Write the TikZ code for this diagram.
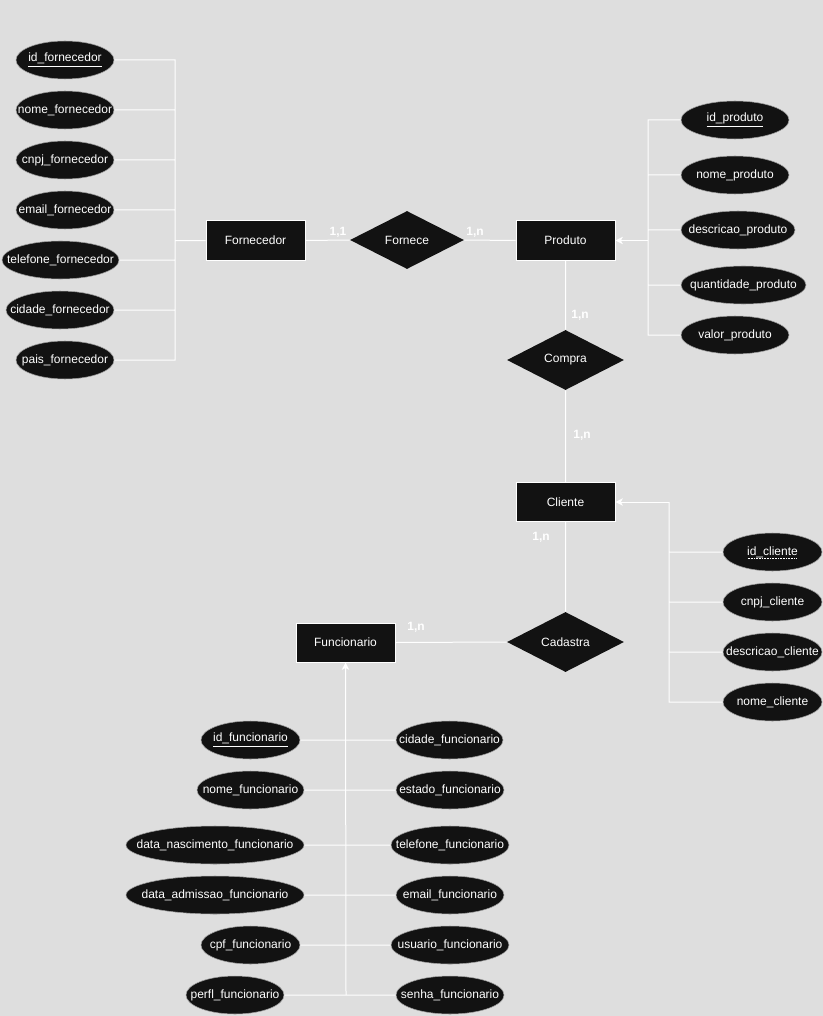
\documentclass[tikz,border=0pt]{standalone}
\usepackage{fontspec}
\setmainfont{Liberation Sans}
\usetikzlibrary{arrows.meta, shapes.geometric, positioning}
\definecolor{bg}{HTML}{DEDEDE}
\definecolor{ink}{HTML}{121212}
\newsavebox\dotbox
\newcommand{\zw}[1]{\makebox[0pt]{#1}}
\newcommand{\dotbar}[1]{\sbox\dotbox{#1}\makebox[0pt][l]{\raisebox{-2.6pt}[0pt][0pt]{\hbox to \wd\dotbox{\leaders\hbox to 1.2pt{\hss\vrule height 0.5pt width 0.6pt\hss}\hfill}}}\usebox\dotbox}

\begin{document}
\begin{tikzpicture}[x=0.75pt, y=-0.75pt,
    txt/.style={text=white, font=\fontsize{9}{11}\selectfont},
    ent/.style={txt, rectangle, fill=ink, draw=white, line width=0.75pt, minimum width=74.25pt, minimum height=29.25pt},
    rel/.style={txt, diamond, fill=ink, inner sep=0pt, minimum width=87.75pt, minimum height=45pt},
    attr/.style={txt, ellipse, fill=ink, draw=white!60!ink, line width=0.4pt, inner sep=0pt, minimum height=28.5pt, minimum width=#1},
    attr/.default=74.25pt,
    card/.style={txt, font=\bfseries\fontsize{9}{11}\selectfont, inner sep=1pt},
    link/.style={draw=white, line width=0.75pt},
    tip/.style={-{Stealth[length=5.5pt, width=5.5pt, inset=1.5pt]}}]
                        \fill[bg] (0, 0) rectangle (823, 1016);
                        \useasboundingbox (0, 0) rectangle (823, 1016);
                        % fornecedor
                        \node[attr=73.5pt] (idf) at (65, 60) {\zw{\underline{id\_fornecedor}}};
                        \node[attr=73.5pt] (nomef) at (65, 110) {\zw{nome\_fornecedor}};
                        \node[attr=73.5pt] (cnpjf) at (65, 160) {\zw{cnpj\_fornecedor}};
                        \node[attr=73.5pt] (emailf) at (65, 210) {\zw{email\_fornecedor}};
                        \node[attr=87.75pt] (telf) at (60.5, 260) {\zw{telefone\_fornecedor}};
                        \node[attr=81pt] (cidf) at (60, 310) {\zw{cidade\_fornecedor}};
                        \node[attr=73.5pt] (paisf) at (65, 360) {\zw{pais\_fornecedor}};
                        \coordinate (fbus) at (175, 240.5);
                        \node[ent] (forn) at (255.5, 240.5) {Fornecedor};
                        \node[rel, minimum width=85.5pt, minimum height=43.5pt] (fornece) at (407, 240) {Fornece};
                        % produto
                        \node[ent] (prod) at (565.5, 240.5) {Produto};
                        \node[attr=81pt] (idp) at (735, 120) {\zw{\underline{id\_produto}}};
                        \node[attr=81pt] (nomep) at (735, 175) {\zw{nome\_produto}};
                        \node[attr=85.5pt] (descp) at (738, 230) {\zw{descricao\_produto}};
                        \node[attr=93.75pt] (quantp) at (743.5, 285) {\zw{quantidade\_produto}};
                        \node[attr=81pt] (valp) at (735, 335) {\zw{valor\_produto}};
                        \coordinate (pbus) at (648, 240.5);
                        \node[rel] (compra) at (565.5, 360) {Compra};
                        % cliente
                        \node[ent] (cli) at (565.5, 502) {Cliente};
                        \node[attr] (idc) at (772.5, 552) {\zw{\dotbar{id\_cliente}}};
                        \node[attr] (cnpjc) at (772.5, 602) {\zw{cnpj\_cliente}};
                        \node[attr] (descc) at (772.5, 652) {\zw{descricao\_cliente}};
                        \node[attr] (nomec) at (772.5, 702) {\zw{nome\_cliente}};
                        \coordinate (cbus) at (669, 502);
                        \node[rel] (cad) at (565.5, 642) {Cadastra};
                        % funcionario
                        \node[ent] (func) at (345.5, 642.5) {Funcionario};
                        \node[attr] (idfu) at (250.5, 740) {\zw{\underline{id\_funcionario}}};
                        \node[attr=80.25pt] (nomefu) at (250.5, 790) {\zw{nome\_funcionario}};
                        \node[attr=133.5pt] (dnfu) at (215, 845) {\zw{data\_nascimento\_funcionario}};
                        \node[attr=133.5pt] (dafu) at (215, 895) {\zw{data\_admissao\_funcionario}};
                        \node[attr] (cpffu) at (250.5, 945) {\zw{cpf\_funcionario}};
                        \node[attr=73.5pt] (perfu) at (235, 995) {\zw{perfl\_funcionario}};
                        \node[attr=80.25pt] (cidfu) at (449.5, 740) {\zw{cidade\_funcionario}};
                        \node[attr=81pt] (estfu) at (450, 790) {\zw{estado\_funcionario}};
                        \node[attr=88.5pt] (telfu) at (450, 845) {\zw{telefone\_funcionario}};
                        \node[attr=81pt] (emfu) at (450, 895) {\zw{email\_funcionario}};
                        \node[attr=88.5pt] (usufu) at (450, 945) {\zw{usuario\_funcionario}};
                        \node[attr=81pt] (senfu) at (450, 995) {\zw{senha\_funcionario}};
                        \coordinate (fufoot) at (346, 995);
                        % cardinalidades
                        \node[card] (c1) at (338, 232) {1,1};
                        \node[card] (c2) at (475, 232) {1,n};
                        \node[card] (c3) at (580, 315) {1,n};
                        \node[card] (c4) at (582, 435) {1,n};
                        \node[card] (c5) at (541, 537) {1,n};
                        \node[card] (c6) at (416, 627) {1,n};
                        \draw[link]
                        (idf.east) -| (fbus)
                        (nomef.east) -| (fbus)
                        (cnpjf.east) -| (fbus)
                        (emailf.east) -| (fbus)
                        (telf.east) -| (fbus)
                        (cidf.east) -| (fbus)
                        (paisf.east) -| (fbus)
                        (fbus) -- (forn.west)
                        (forn.east) -- (fornece.west)
                        (fornece.east) -- (prod.west)
                        (idp.west) -| (pbus)
                        (nomep.west) -| (pbus)
                        (descp.west) -| (pbus)
                        (quantp.west) -| (pbus)
                        (valp.west) -| (pbus)
                        (prod.south) -- (compra.north)
                        (compra.south) -- (cli.north)
                        (idc.west) -| (cbus)
                        (cnpjc.west) -| (cbus)
                        (descc.west) -| (cbus)
                        (nomec.west) -| (cbus)
                        (cli.south) -- (cad.north)
                        (cad.west) -- (func.east)
                        (idfu.east) -- (idfu.east -| fufoot)
                        (nomefu.east) -- (nomefu.east -| fufoot)
                        (dnfu.east) -- (dnfu.east -| fufoot)
                        (dafu.east) -- (dafu.east -| fufoot)
                        (cpffu.east) -- (cpffu.east -| fufoot)
                        (perfu.east) -- (fufoot)
                        (cidfu.west) -- (cidfu.west -| fufoot)
                        (estfu.west) -- (estfu.west -| fufoot)
                        (telfu.west) -- (telfu.west -| fufoot)
                        (emfu.west) -- (emfu.west -| fufoot)
                        (usufu.west) -- (usufu.west -| fufoot)
                        (senfu.west) -- (fufoot);
                        \draw[link, tip] (pbus) -- (prod.east);
                        \draw[link, tip] (cbus) -- (cli.east);
                        \draw[link, tip] (fufoot) -- (func.south);
                    \end{tikzpicture}
\end{document}
